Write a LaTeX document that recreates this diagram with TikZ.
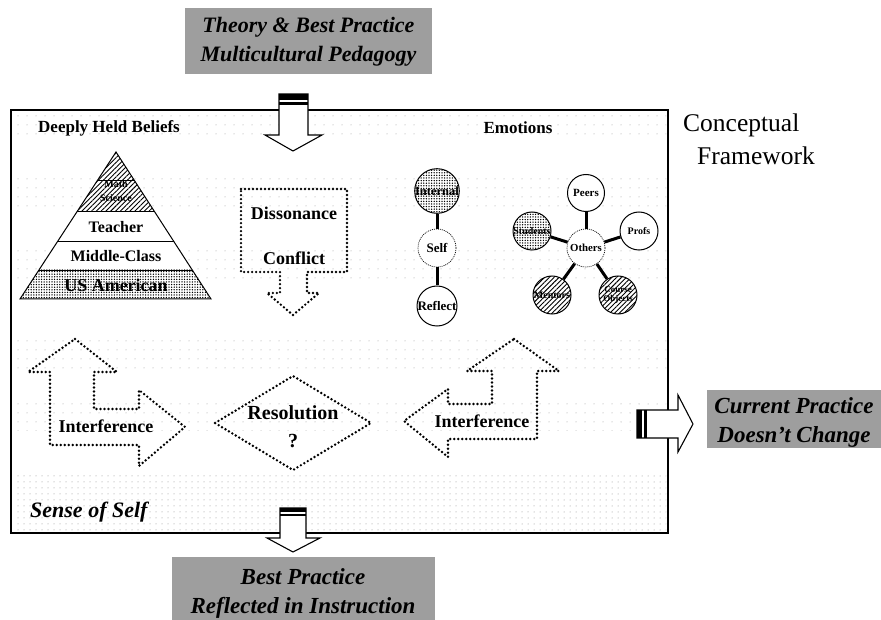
\documentclass[tikz,border=0pt]{standalone}
\usepackage{fontspec}
\setmainfont{Liberation Serif}
\usetikzlibrary{patterns.meta}

\tikzset{
  dotline/.style={line width=2.7pt, dash pattern=on 0pt off 4pt, line cap=round, line join=round},
  lbl/.style={font=\bfseries\fontsize{18}{20}\selectfont, inner sep=0pt},
  smalllbl/.style={font=\bfseries\fontsize{16}{18}\selectfont, inner sep=0pt},
  graybox/.style={fill=black!38, draw=none},
  boxtext/.style={font=\bfseries\itshape\fontsize{22}{29}\selectfont, align=center, inner sep=0pt},
  blockarrow/.style={draw=black, line width=1.1pt, fill=white, line join=miter},
  bubble/.style={circle, draw=black, line width=1pt, fill=white, inner sep=0pt,
                 minimum size=38pt, font=\bfseries\fontsize{10}{10.5}\selectfont, align=center},
  hub/.style={bubble, densely dotted, line width=0.7pt},
  spoke/.style={line width=3pt},
  stipple/.style={postaction={pattern={Dots[distance=2.6pt, radius=0.75pt]}, pattern color=black}},
  hatched/.style={postaction={pattern={Lines[angle=45, distance=3.4pt, line width=0.9pt]}, pattern color=black}},
  bgdots/.style={pattern={Dots[distance=9pt, radius=0.5pt]}, pattern color=black!40},
  bgdense/.style={pattern={Dots[distance=6pt, radius=0.5pt]}, pattern color=black!45},
}

\begin{document}
\begin{tikzpicture}[x=1pt, y=-1pt]
\useasboundingbox (0,0) rectangle (881,620);
\fill[white] (0,0) rectangle (881,620);

% light dotted bands inside the framework
\path[bgdots] (13,113) rectangle (666,140);
\path[bgdots] (13,178) rectangle (666,210);
\path[bgdots] (13,247) rectangle (666,285);
\path[bgdots] (13,338) rectangle (666,368);
\path[bgdots] (13,396) rectangle (666,430);
\path[bgdense] (13,472) rectangle (666,531);

% framework border
\draw[line width=2pt] (11,110) rectangle (668,533);

% input and output boxes
\fill[graybox] (185,8) rectangle (432,74);
\node[boxtext] (theory) at (308.5,42) {Theory \& Best Practice\\Multicultural Pedagogy};
\fill[graybox] (707,390) rectangle (881,448);
\node[boxtext, font=\bfseries\itshape\fontsize{23}{29}\selectfont] (current) at (794,422) {Current Practice\\Doesn't Change};
\fill[graybox] (172,557) rectangle (435,620);
\node[boxtext, font=\bfseries\itshape\fontsize{23}{29}\selectfont] (best) at (303,593) {Best Practice\\Reflected in Instruction};

% block arrows crossing the border
\draw[blockarrow] (279,94) -- (308,94) -- (308,135) -- (322,135) -- (293,151) -- (265,135) -- (279,135) -- cycle;
\fill (279,94) rectangle (308,100);
\fill (279,102) rectangle (308,105);
\draw[blockarrow] (637,410) -- (678,410) -- (678,395) -- (693,424) -- (678,452) -- (678,438) -- (637,438) -- cycle;
\fill (637,410) rectangle (642,438);
\fill (644,410) rectangle (647,438);
\draw[blockarrow] (280,508) -- (306,508) -- (306,538) -- (320,538) -- (293,552) -- (267,538) -- (280,538) -- cycle;
\fill (280,508) rectangle (306,512);
\fill (280,514) rectangle (306,516);

% headings
\node[font=\bfseries\fontsize{17}{19}\selectfont, inner sep=0pt] (beliefs) at (109,128) {Deeply Held Beliefs};
\node[font=\bfseries\fontsize{17}{19}\selectfont, inner sep=0pt] (emotions) at (518,128) {Emotions};
\node[font=\fontsize{25.5}{27}\selectfont, anchor=base west, inner sep=0pt] (concept) at (683,132) {Conceptual};
\node[font=\fontsize{25.5}{27}\selectfont, anchor=base west, inner sep=0pt] (frame) at (697,165) {Framework};
\node[font=\bfseries\itshape\fontsize{22}{24}\selectfont, anchor=west, inner sep=0pt] (sense) at (30,512) {Sense of Self};

% pyramid of beliefs
\begin{scope}
  \clip (116,152) -- (211,299) -- (20,299) -- cycle;
  \fill[white] (0,150) rectangle (230,300);
  \path[hatched] (0,150) rectangle (230,211);
  \path[stipple] (0,270) rectangle (230,299);
  \draw[line width=0.9pt] (0,180) -- (230,180) (0,211) -- (230,211)
                          (0,241) -- (230,241) (0,270) -- (230,270);
\end{scope}
\draw[line width=1pt, line join=miter] (116,152) -- (211,299) -- (20,299) -- cycle;
\node[font=\bfseries\fontsize{10}{11}\selectfont, inner sep=0pt] (math) at (116,184) {Math};
\node[font=\bfseries\fontsize{10}{11}\selectfont, inner sep=0pt] (science) at (116,198) {Science};
\node[smalllbl] (teacher) at (116,227) {Teacher};
\node[smalllbl] (middle) at (116,256) {Middle-Class};
\node[lbl] (usa) at (116,285) {US American};

% dissonance box
\draw[dotline] (241,189) -- (347,189) -- (347,272) -- (307,272) -- (307,293) -- (319,293)
  -- (293,315) -- (267,293) -- (280,293) -- (280,272) -- (241,272) -- cycle;
\node[lbl] (dissonance) at (294,213) {Dissonance};
\node[lbl] (conflict) at (294,258) {Conflict};

% self cluster
\node[bubble, stipple, minimum size=40pt, font=\bfseries\fontsize{12.5}{13}\selectfont] (internal) at (437,191) {Internal};
\node[hub, font=\bfseries\fontsize{13}{14}\selectfont] (self) at (437,248) {Self};
\node[bubble, minimum size=40pt, font=\bfseries\fontsize{13}{14}\selectfont] (reflect) at (437,306) {Reflect};
\draw[spoke] (self) -- (internal);
\draw[spoke] (self) -- (reflect);

% others cluster
\node[hub, font=\bfseries\fontsize{10.8}{11}\selectfont] (others) at (586,248) {Others};
\node[bubble, minimum size=37pt, font=\bfseries\fontsize{11}{12}\selectfont] (peers) at (586,193) {Peers};
\node[bubble, font=\bfseries\fontsize{10}{11}\selectfont] (profs) at (639,231) {Profs};
\node[bubble, stipple] (students) at (532,231) {Students};
\node[bubble, hatched] (mentors) at (552,295) {Mentors};
\node[bubble, hatched, font=\bfseries\fontsize{9}{9.5}\selectfont] (course) at (618,295) {Course\\Objects};
\foreach \n in {peers,profs,students,mentors,course}
  \draw[spoke] (others) -- (\n);

% interference arrows and resolution
\draw[dotline] (75,339) -- (117,372) -- (94,372) -- (94,409) -- (139,409) -- (139,390)
  -- (185,427) -- (139,466) -- (139,445) -- (50,445) -- (50,372) -- (28,372) -- cycle;
\node[lbl] (interleft) at (106,426) {Interference};

\draw[dotline] (215,423) -- (293,376) -- (371,423) -- (293,470) -- cycle;
\node[font=\bfseries\fontsize{20}{22}\selectfont, inner sep=0pt] (resolution) at (293,413) {Resolution};
\node[font=\bfseries\fontsize{20}{22}\selectfont, inner sep=0pt] (question) at (293,441) {?};

\draw[dotline] (514,339) -- (559,371) -- (537,371) -- (537,439) -- (448,439) -- (448,457)
  -- (404,421) -- (448,389) -- (448,404) -- (492,404) -- (492,371) -- (467,371) -- cycle;
\node[lbl] (interright) at (482,421) {Interference};
\end{tikzpicture}
\end{document}
